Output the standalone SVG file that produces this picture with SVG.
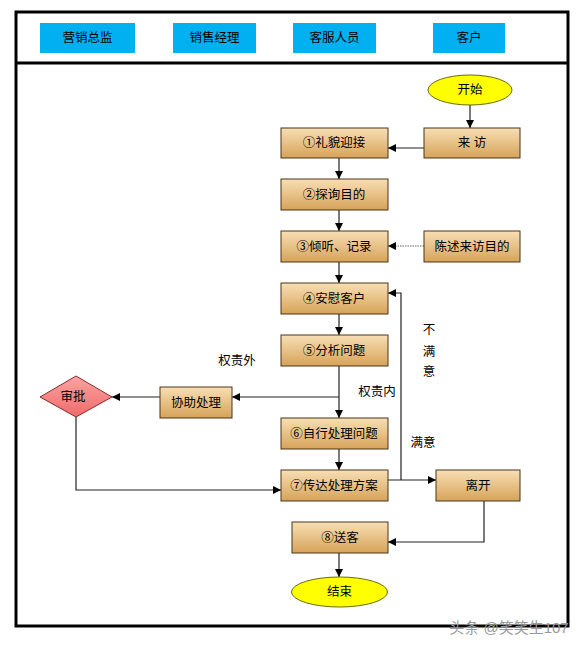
<svg xmlns="http://www.w3.org/2000/svg" width="582" height="648" viewBox="0 0 582 648">
<defs>
<linearGradient id="tan" x1="0" y1="0" x2="0" y2="1">
<stop offset="0" stop-color="#f8dfb4"/>
<stop offset="1" stop-color="#d6a35a"/>
</linearGradient>
<linearGradient id="pink" x1="0" y1="0" x2="0" y2="1">
<stop offset="0" stop-color="#fba3a3"/>
<stop offset="1" stop-color="#f06a6a"/>
</linearGradient>
<marker id="arr" markerUnits="userSpaceOnUse" markerWidth="9" markerHeight="9" refX="8" refY="4" orient="auto">
<path d="M0,0 L8,4 L0,8 z" fill="#000"/>
</marker>
</defs>
<style>
text{font-family:"Liberation Sans","Noto Sans CJK SC",sans-serif;font-size:12.5px;fill:#000;text-anchor:middle;dominant-baseline:central}
.box{fill:url(#tan);stroke:#4a3418;stroke-width:1}
.hdr{fill:#00b0f0}
.ell{fill:#ffff00;stroke:#6b6b00;stroke-width:1}
.ln{fill:none;stroke:#222;stroke-width:1.2}
.ar{marker-end:url(#arr)}
.dot{stroke:#666;stroke-dasharray:1.5 1}
.lbl{font-size:12.5px}
</style>
<rect width="582" height="648" fill="#fff"/>
<g id="frame">
<rect x="16" y="12" width="552" height="614" fill="none" stroke="#000" stroke-width="3"/>
<line x1="16" y1="63" x2="568" y2="63" stroke="#000" stroke-width="3"/>
</g>
<g id="lane-yingxiao"><rect class="hdr" x="40" y="23" width="95" height="30"/><text x="87.5" y="38">营销总监</text></g>
<g id="lane-xiaoshou"><rect class="hdr" x="173" y="23" width="83" height="30"/><text x="214.5" y="38">销售经理</text></g>
<g id="lane-kefu"><rect class="hdr" x="293" y="23" width="83" height="30"/><text x="334.5" y="38">客服人员</text></g>
<g id="lane-kehu"><rect class="hdr" x="433" y="23" width="72" height="30"/><text x="469" y="38">客户</text></g>

<g id="connectors">
<line class="ln ar" x1="470" y1="105" x2="470" y2="128"/>
<line class="ln ar" x1="424" y1="148" x2="388" y2="148"/>
<line class="ln ar" x1="339" y1="158" x2="339" y2="179"/>
<line class="ln ar" x1="339" y1="210" x2="339" y2="231"/>
<line class="ln ar dot" x1="424" y1="246" x2="388" y2="246"/>
<line class="ln ar" x1="339" y1="262" x2="339" y2="283"/>
<line class="ln ar" x1="339" y1="314" x2="339" y2="335"/>
<line class="ln ar" x1="339" y1="366" x2="339" y2="418"/>
<line class="ln ar" x1="339" y1="397" x2="232" y2="397"/>
<line class="ln ar" x1="160" y1="397" x2="112" y2="397"/>
<polyline class="ln ar" points="76,417 76,490 281,490"/>
<line class="ln ar" x1="339" y1="449" x2="339" y2="470"/>
<line class="ln ar" x1="388" y1="480" x2="436" y2="480"/>
<polyline class="ln ar" points="401,480 401,293 388,293"/>
<polyline class="ln ar" points="484,501 484,542 388,542"/>
<line class="ln ar" x1="339" y1="553" x2="339" y2="577"/>
</g>

<g id="start"><ellipse class="ell" cx="470" cy="90" rx="42" ry="15"/><text x="470" y="90">开始</text></g>
<g id="laifang"><rect class="box" x="424" y="128" width="96" height="30"/><text x="472" y="143">来 访</text></g>
<g id="n1"><rect class="box" x="281" y="128" width="107" height="30"/><text x="334" y="143">①礼貌迎接</text></g>
<g id="n2"><rect class="box" x="281" y="179" width="107" height="31"/><text x="334" y="194.5">②探询目的</text></g>
<g id="n3"><rect class="box" x="281" y="231" width="107" height="31"/><text x="334" y="246.5">③倾听、记录</text></g>
<g id="chenshu"><rect class="box" x="424" y="231" width="96" height="31"/><text x="472" y="246.5">陈述来访目的</text></g>
<g id="n4"><rect class="box" x="281" y="283" width="107" height="31"/><text x="334" y="298.5">④安慰客户</text></g>
<g id="n5"><rect class="box" x="281" y="335" width="107" height="31"/><text x="334" y="350.5">⑤分析问题</text></g>
<g id="xiezhu"><rect class="box" x="160" y="387" width="72" height="31"/><text x="196" y="402.5">协助处理</text></g>
<g id="shenpi"><polygon points="76,376 112,397 76,417 40,397" fill="url(#pink)" stroke="#8a2a2a" stroke-width="1"/><text x="73" y="397">审批</text></g>
<g id="n6"><rect class="box" x="281" y="418" width="107" height="31"/><text x="334" y="433.5">⑥自行处理问题</text></g>
<g id="n7"><rect class="box" x="281" y="470" width="107" height="31"/><text x="334" y="485.5">⑦传达处理方案</text></g>
<g id="likai"><rect class="box" x="436" y="470" width="84" height="31"/><text x="478" y="485.5">离开</text></g>
<g id="n8"><rect class="box" x="292" y="522" width="96" height="31"/><text x="340" y="537.5">⑧送客</text></g>
<g id="end"><ellipse class="ell" cx="339.5" cy="592" rx="48" ry="15"/><text x="339.5" y="592">结束</text></g>

<g id="labels">
<text class="lbl" x="237" y="361">权责外</text>
<text class="lbl" x="377" y="392">权责内</text>
<text class="lbl" x="429" y="330">不</text>
<text class="lbl" x="429" y="352">满</text>
<text class="lbl" x="429" y="372">意</text>
<text class="lbl" x="423" y="443">满意</text>
<text x="509" y="627" style="font-size:15px;fill:#9a9a9a">头条 @笑笑生107</text>
</g>
</svg>
